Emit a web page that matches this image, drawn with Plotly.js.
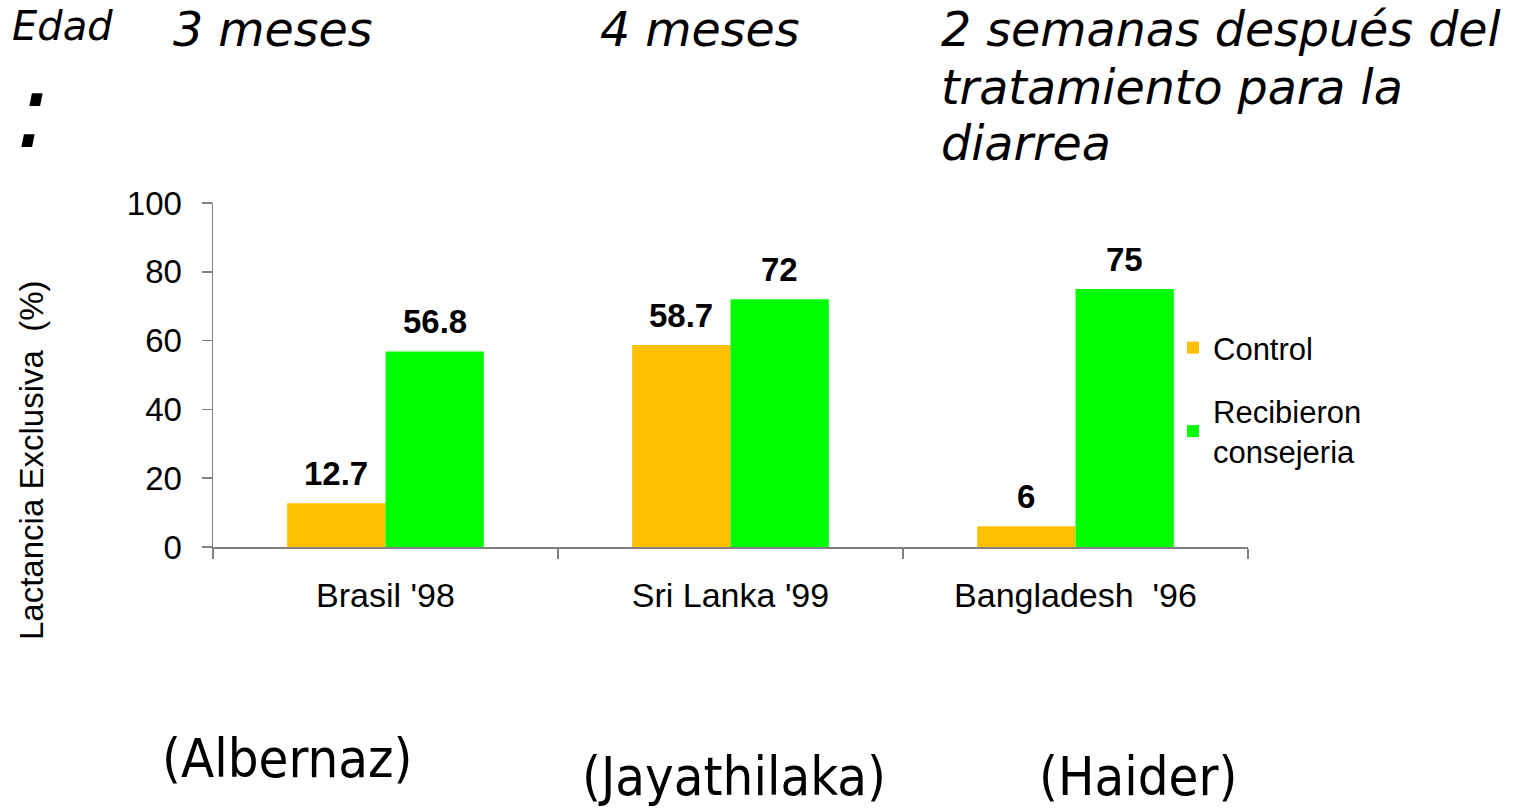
<!DOCTYPE html>
<html>
<head>
<meta charset="utf-8">
<script src="https://cdn.plot.ly/plotly-3.0.1.min.js"></script>
<style>html,body{margin:0;padding:0;background:#fff;}#chart{width:1523px;height:808px;}</style>
</head>
<body>
<div id="chart"></div>
<script>
const categories = ["Brasil '98", "Sri Lanka '99", "Bangladesh  '96"];
const controlValues = [12.7, 58.7, 6];
const counselValues = [56.8, 72, 75];
const seriesNames = ["Control", "Recibieron<br>consejeria"];
const seriesColors = ["#FFC000", "#00FF00"];
const ages = ["3 meses", "4 meses", "2 semanas después del", "tratamiento para la", "diarrea"];
const authors = ["(Albernaz)", "(Jayathilaka)", "(Haider)"];
const yTitle = "Lactancia Exclusiva  (%)";

const W = 1523, H = 808;
const L = 213, R = 1248, T = 203, B = 547;
const px = x => (x - L) / (R - L);
const py = y => (B - y) / (B - T);

const bargap = 0.43;
const half = (1 - bargap) / 4;

const traces = [
  {type: 'bar', x: categories, y: controlValues, name: seriesNames[0],
   marker: {color: seriesColors[0]}, legendgroup: 'a', hoverinfo: 'none'},
  {type: 'bar', x: categories, y: counselValues, name: seriesNames[1],
   marker: {color: seriesColors[1]}, legendgroup: 'b', hoverinfo: 'none'}
];

const chartFont = 'Liberation Sans, Arial, sans-serif';
const titleFont = 'DejaVu Sans, Verdana, sans-serif';

const annotations = [];
[controlValues, counselValues].forEach((vals, s) => {
  vals.forEach((v, i) => {
    annotations.push({
      x: i + (s === 0 ? -half : half), y: v, xref: 'x', yref: 'y',
      text: '<b>' + v + '</b>', showarrow: false, yanchor: 'middle', yshift: 30,
      font: {family: chartFont, size: 33, color: '#000'}
    });
  });
});

function txt(text, x, y, size, family) {
  return {
    text: text, xref: 'paper', yref: 'paper', x: px(x), y: py(y),
    xanchor: 'left', yanchor: 'middle', showarrow: false,
    font: {family: family || titleFont, size: size, color: '#000'}
  };
}

annotations.push(txt('<i>Edad</i>', 10, 26, 40));
annotations.push(txt('<i>:</i>', 14, 111, 104));
annotations.push(txt('<i>' + ages[0] + '</i>', 171, 29, 47.5));
annotations.push(txt('<i>' + ages[1] + '</i>', 598, 29, 47.5));
annotations.push(txt('<i>' + ages[2] + '</i>', 939, 29, 47.5));
annotations.push(txt('<i>' + ages[3] + '</i>', 939, 87, 47.5));
annotations.push(txt('<i>' + ages[4] + '</i>', 939, 144, 47.5));

const condensed = 'DejaVu Sans Condensed, DejaVu Sans, sans-serif';
annotations.push(txt(authors[0], 160, 758, 54, condensed));
annotations.push(txt(authors[1], 580, 776, 54, condensed));
annotations.push(txt(authors[2], 1037, 776, 54, condensed));

annotations.push({
  text: yTitle, xref: 'paper', yref: 'paper', x: px(31), y: py(461),
  xanchor: 'center', yanchor: 'middle', textangle: -90, showarrow: false,
  font: {family: chartFont, size: 33, color: '#000'}
});

const layout = {
  width: W, height: H,
  margin: {l: L, r: W - R, t: T, b: H - B, pad: 0},
  paper_bgcolor: '#fff', plot_bgcolor: '#fff',
  barmode: 'group', bargap: bargap, bargroupgap: 0,
  showlegend: true,
  legend: {
    x: px(1173), y: py(321), xanchor: 'left', yanchor: 'top',
    font: {family: chartFont, size: 31, color: '#000'},
    traceorder: 'grouped', tracegroupgap: 20, bgcolor: 'rgba(0,0,0,0)'
  },
  font: {family: chartFont, color: '#000'},
  xaxis: {
    type: 'category', showline: true, linecolor: '#808080', linewidth: 1.5,
    ticks: 'outside', tickson: 'boundaries', ticklen: 10, tickcolor: '#808080', tickwidth: 1.5,
    tickfont: {family: chartFont, size: 34, color: '#000'},
    ticklabelstandoff: 18, showgrid: false, zeroline: false, fixedrange: true
  },
  yaxis: {
    range: [0, 100], dtick: 20, tick0: 0, showline: true, linecolor: '#808080', linewidth: 1.5,
    ticks: 'outside', ticklen: 10, tickcolor: '#808080', tickwidth: 1.5,
    tickfont: {family: chartFont, size: 33, color: '#000'},
    ticklabelstandoff: 13, showgrid: false, zeroline: false, fixedrange: true
  },
  annotations: annotations
};

Plotly.newPlot('chart', traces, layout, {displayModeBar: false, staticPlot: true});
</script>
</body>
</html>
